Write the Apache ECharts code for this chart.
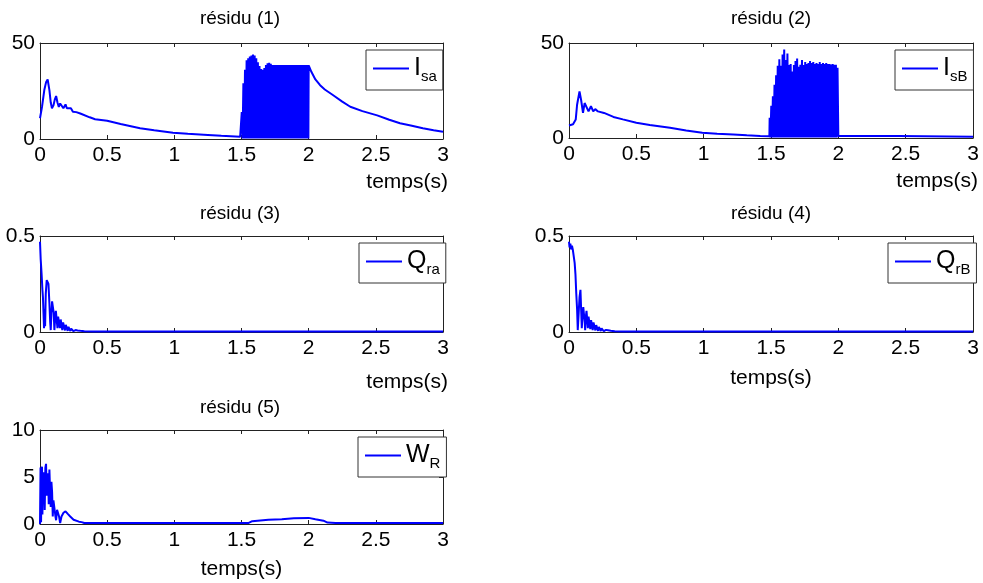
<!DOCTYPE html>
<html>
<head>
<meta charset="utf-8">
<script src="https://cdn.jsdelivr.net/npm/echarts@6/dist/echarts.min.js"></script>
<style>html,body{margin:0;padding:0;background:#fff}#c{width:983px;height:583px}</style>
</head>
<body>
<div id="c"></div>
<script>
// ---- data (time in s, residual value) ----
const xTicks = [0, 0.5, 1, 1.5, 2, 2.5, 3];
const titles = ['résidu (1)', 'résidu (2)', 'résidu (3)', 'résidu (4)', 'résidu (5)'];
const legendMain = ['I', 'I', 'Q', 'Q', 'W'];
const legendSub = ['sa', 'sB', 'ra', 'rB', 'R'];
const yMax = [50, 50, 0.5, 0.5, 10];
const yStep = [50, 50, 0.5, 0.5, 5];

const isa = [
 [0,10.8],[0.015,16.8],[0.032,25.5],[0.045,29.5],[0.057,31],[0.07,25.5],[0.08,19],[0.089,16],[0.1,17.5],[0.11,20.5],[0.12,22.4],[0.13,19],[0.14,16.7],[0.15,18.5],[0.16,19.3],[0.174,16],[0.19,18],[0.2,16],[0.21,15.2],[0.23,16],[0.245,14.2],[0.27,14],[0.3,13.3],[0.37,11.3],[0.41,10.3],[0.5,9.5],[0.6,7.8],[0.745,5.6],[0.85,4.5],[0.99,3.3],[1.1,2.7],[1.25,2.1],[1.35,1.7],[1.49,1.2],
 [1.490,2],[1.496,0.3],[1.502,14],[1.508,0.3],[1.514,29],[1.520,0.3],[1.526,36],[1.532,0.3],[1.538,41],[1.544,0.3],[1.550,42],[1.556,0.3],[1.562,43],[1.568,0.3],[1.574,43.5],[1.580,0.3],[1.586,44],[1.592,0.3],[1.598,43.5],[1.604,0.3],[1.610,42],[1.616,0.3],[1.622,40],[1.628,0.3],[1.634,38],[1.640,0.3],[1.646,36.5],[1.652,0.3],[1.658,36],[1.664,0.3],[1.670,37],[1.676,0.3],[1.682,38.5],[1.688,0.3],[1.694,39.5],[1.700,0.3],[1.706,39.7],[1.712,0.3],[1.718,39.2],[1.724,0.3],[1.730,38.6],[1.736,0.3],[1.742,38.5],[1.748,0.3],[1.754,38.5],[1.760,0.3],[1.766,38.5],[1.772,0.3],[1.778,38.5],[1.784,0.3],[1.790,38.5],[1.796,0.3],[1.802,38.5],[1.808,0.3],[1.814,38.5],[1.820,0.3],[1.826,38.5],[1.832,0.3],[1.838,38.5],[1.844,0.3],[1.850,38.5],[1.856,0.3],[1.862,38.5],[1.868,0.3],[1.874,38.5],[1.880,0.3],[1.886,38.5],[1.892,0.3],[1.898,38.5],[1.904,0.3],[1.910,38.5],[1.916,0.3],[1.922,38.5],[1.928,0.3],[1.934,38.5],[1.940,0.3],[1.946,38.5],[1.952,0.3],[1.958,38.5],[1.964,0.3],[1.970,38.5],[1.976,0.3],[1.982,38.5],[1.988,0.3],[1.994,38.5],[1.998,0.3],[2.0,38.3],
 [2.02,35],[2.05,31],[2.085,28],[2.12,25.8],[2.18,22.9],[2.25,19.5],[2.31,16.8],[2.4,14.5],[2.51,12.3],[2.6,10],[2.68,8.2],[2.76,7],[2.85,5.6],[2.93,4.6],[3.0,3.8]
];

const isb = [
 [0,6.6],[0.03,7.2],[0.05,9.7],[0.06,17.5],[0.078,24.5],[0.09,20],[0.104,13.2],[0.116,18.4],[0.13,19.3],[0.145,14],[0.163,16.7],[0.18,14],[0.195,15.2],[0.215,14],[0.26,13.2],[0.33,11.1],[0.4,9.8],[0.5,8],[0.6,6.9],[0.75,5.4],[0.87,4],[0.99,2.8],[1.1,2.3],[1.22,1.9],[1.32,1.4],[1.42,1.0],[1.488,0.9],
 [1.490,10.6],[1.496,0.3],[1.502,17],[1.508,0.3],[1.514,22],[1.520,0.3],[1.526,28],[1.532,0.3],[1.538,33],[1.544,0.3],[1.550,38],[1.556,0.3],[1.562,41.5],[1.568,0.3],[1.574,38],[1.580,0.3],[1.586,44],[1.592,0.3],[1.598,46.6],[1.604,0.3],[1.610,41],[1.616,0.3],[1.622,44.5],[1.628,0.3],[1.634,38.4],[1.640,0.3],[1.646,39],[1.652,0.3],[1.658,35],[1.664,0.3],[1.670,38.4],[1.676,0.3],[1.682,40.5],[1.688,0.3],[1.694,41.9],[1.700,0.3],[1.706,37.5],[1.712,0.3],[1.718,38.5],[1.724,0.3],[1.730,41],[1.736,0.3],[1.742,38.4],[1.748,0.3],[1.754,40],[1.760,0.3],[1.766,39],[1.772,0.3],[1.778,39.5],[1.784,0.3],[1.790,40.5],[1.796,0.3],[1.802,39.5],[1.808,0.3],[1.814,40],[1.820,0.3],[1.826,39],[1.832,0.3],[1.838,39.5],[1.844,0.3],[1.850,39],[1.856,0.3],[1.862,40],[1.868,0.3],[1.874,39],[1.880,0.3],[1.886,39.5],[1.892,0.3],[1.898,39],[1.904,0.3],[1.910,39.5],[1.916,0.3],[1.922,39],[1.928,0.3],[1.934,39],[1.940,0.3],[1.946,38.7],[1.952,0.3],[1.958,39],[1.964,0.3],[1.970,38.5],[1.976,0.3],[1.982,38.5],[1.988,0.3],[1.994,37],
 [2.0,1.0],[2.45,1.0],[2.46,0.6],[3,0.6]
];

const qra = [
 [0,0.47],[0.005,0.38],[0.012,0.3],[0.018,0.22],[0.022,0.18],[0.026,0.1],[0.03,0.02],[0.034,0.12],[0.038,0.03],[0.043,0.2],[0.05,0.27],[0.057,0.28],[0.063,0.25],[0.07,0.15],[0.076,0.05],[0.08,0.01],[0.085,0.1],[0.09,0.16],[0.096,0.165],[0.102,0.1],[0.107,0.01],[0.112,0.06],[0.118,0.11],[0.124,0.1],[0.13,0.02],[0.135,0.08],[0.142,0.075],[0.148,0.02],[0.154,0.065],[0.16,0.058],[0.166,0.01],[0.172,0.05],[0.18,0.045],[0.186,0.008],[0.192,0.037],[0.2,0.033],[0.206,0.006],[0.212,0.027],[0.22,0.024],[0.226,0.005],[0.232,0.018],[0.24,0.016],[0.248,0.004],[0.255,0.013],[0.265,0.01],[0.28,0.008],[0.3,0.006],[0.33,0.004],[0.4,0.003],[1,0.003],[2,0.003],[3,0.003]
];

const qrb = [
 [0,0.47],[0.004,0.44],[0.01,0.46],[0.016,0.43],[0.022,0.45],[0.028,0.43],[0.035,0.42],[0.042,0.36],[0.048,0.3],[0.054,0.2],[0.06,0.12],[0.065,0.01],[0.072,0.1],[0.078,0.18],[0.085,0.22],[0.09,0.12],[0.095,0.02],[0.1,0.08],[0.106,0.13],[0.113,0.14],[0.117,0.05],[0.12,0.01],[0.125,0.08],[0.13,0.11],[0.136,0.1],[0.14,0.02],[0.145,0.08],[0.152,0.07],[0.158,0.015],[0.164,0.062],[0.17,0.058],[0.176,0.01],[0.182,0.05],[0.19,0.044],[0.196,0.008],[0.202,0.036],[0.21,0.032],[0.216,0.006],[0.222,0.026],[0.23,0.023],[0.236,0.005],[0.242,0.019],[0.25,0.017],[0.258,0.004],[0.265,0.013],[0.275,0.011],[0.29,0.009],[0.31,0.006],[0.34,0.004],[0.4,0.003],[1,0.003],[2,0.003],[3,0.003]
];

const wr = [
 [0,0],[0.004,6.0],[0.008,0.2],[0.012,5.5],[0.015,6.1],[0.018,1],[0.022,4.5],[0.025,2.5],[0.03,5.5],[0.035,1.5],[0.04,6],[0.045,6.4],[0.05,3],[0.055,5],[0.06,5.4],[0.065,2.1],[0.07,5.8],[0.075,3.5],[0.08,1.8],[0.085,4.5],[0.09,3.4],[0.095,0.8],[0.1,2.5],[0.11,2.3],[0.115,0.8],[0.12,0.4],[0.127,1.5],[0.134,1.6],[0.142,0.8],[0.15,0.1],[0.16,0.8],[0.175,1.2],[0.19,1.35],[0.205,1.1],[0.225,0.8],[0.25,0.45],[0.29,0.25],[0.31,0.2],[0.33,0.1],[0.5,0.1],[1.0,0.1],[1.55,0.1],[1.58,0.3],[1.7,0.45],[1.8,0.5],[1.89,0.6],[2.0,0.65],[2.05,0.5],[2.11,0.35],[2.14,0.15],[2.2,0.1],[3,0.1]
];

const seriesData = [isa, isb, qra, qrb, wr];

// ---- layout ----
const rects = [
  {left: 40, top: 43, width: 403, height: 96},
  {left: 569, top: 43, width: 404, height: 95},
  {left: 40, top: 236, width: 403, height: 96},
  {left: 569, top: 236, width: 404, height: 96},
  {left: 40, top: 430, width: 403, height: 94}
];
const titlePos = [[240, 9], [771, 9], [240, 204], [771, 204], [240, 398]];
const legendPos = [[366, 50], [895, 50], [359, 243], [888, 243], [358, 437]];
const xNameMode = ['end', 'end', 'end', 'middle', 'middle'];
const xNamePad = [33, 33, 40, 36, 35];

const NARROW = "'Liberation Sans Narrow', 'Liberation Sans', Arial, sans-serif";
const SANS = "'Liberation Sans', Arial, sans-serif";
const AXC = '#222';

const option = {
  animation: false,
  backgroundColor: '#fff',
  title: [], grid: [], xAxis: [], yAxis: [], legend: [], series: []
};

for (let i = 0; i < 5; i++) {
  option.title.push({
    text: titles[i], left: titlePos[i][0], top: titlePos[i][1], textAlign: 'center', padding: 0,
    textStyle: {fontSize: 19, fontWeight: 'normal', color: '#000', fontFamily: SANS}
  });
  option.grid.push(Object.assign({containLabel: false}, rects[i]));
  const nameCfg = xNameMode[i] === 'end'
    ? {nameLocation: 'end', nameGap: 5,
       nameTextStyle: {align: 'right', verticalAlign: 'top', padding: [xNamePad[i], 0, 0, 0], fontSize: 21, color: '#000', fontFamily: NARROW}}
    : {nameLocation: 'middle', nameGap: xNamePad[i],
       nameTextStyle: {fontSize: 21, color: '#000', fontFamily: NARROW}};
  option.xAxis.push(Object.assign({
    type: 'value', gridIndex: i, min: 0, max: 3, interval: 0.5, position: 'bottom', name: 'temps(s)',
    axisLine: {show: true, onZero: false, lineStyle: {color: AXC, width: 1}},
    axisTick: {show: true, inside: true, length: 4, lineStyle: {color: AXC}},
    axisLabel: {show: true, margin: 6, fontSize: 21, color: '#000', fontFamily: NARROW},
    splitLine: {show: false}
  }, nameCfg));
  option.xAxis.push({
    type: 'value', gridIndex: i, min: 0, max: 3, interval: 0.5, position: 'top',
    axisLine: {show: true, onZero: false, lineStyle: {color: AXC, width: 1}},
    axisTick: {show: true, inside: true, length: 4, lineStyle: {color: AXC}},
    axisLabel: {show: false}, splitLine: {show: false}
  });
  option.yAxis.push({
    type: 'value', gridIndex: i, min: 0, max: yMax[i], interval: yStep[i], position: 'left',
    axisLine: {show: true, onZero: false, lineStyle: {color: AXC, width: 1}},
    axisTick: {show: true, inside: true, length: 4, lineStyle: {color: AXC}},
    axisLabel: {show: true, margin: 5, fontSize: 21, color: '#000', fontFamily: NARROW},
    splitLine: {show: false}
  });
  option.yAxis.push({
    type: 'value', gridIndex: i, min: 0, max: yMax[i], interval: yStep[i], position: 'right',
    axisLine: {show: true, onZero: false, lineStyle: {color: AXC, width: 1}},
    axisTick: {show: true, inside: true, length: 4, lineStyle: {color: AXC}},
    axisLabel: {show: false}, splitLine: {show: false}
  });
  const sname = legendMain[i] + legendSub[i];
  option.series.push({
    type: 'line', name: sname, xAxisIndex: 2 * i, yAxisIndex: 2 * i,
    data: seriesData[i], showSymbol: false, symbol: 'none',
    lineStyle: {color: '#0000ff', width: 2}, itemStyle: {color: '#0000ff'}, z: 3
  });
  const m = legendMain[i], s = legendSub[i];
  option.legend.push({
    data: [{name: sname, icon: 'rect'}], left: legendPos[i][0], top: legendPos[i][1], orient: 'vertical',
    backgroundColor: '#fff', borderColor: '#333', borderWidth: 1, borderRadius: 0,
    padding: [6, 6, 6, 7], itemWidth: 36, itemHeight: 2, selectedMode: false,
    itemStyle: {color: '#0000ff', borderWidth: 0},
    formatter: () => '{m|' + m + '}{s|' + s + '}',
    textStyle: {
      rich: {
        m: {fontSize: 25, lineHeight: 31, color: '#000', fontFamily: NARROW, verticalAlign: 'middle'},
        s: {fontSize: 15, lineHeight: 31, color: '#000', fontFamily: NARROW, verticalAlign: 'bottom'}
      }
    }
  });
}

const chart = echarts.init(document.getElementById('c'), null, {renderer: 'canvas'});
chart.setOption(option);
</script>
</body>
</html>
